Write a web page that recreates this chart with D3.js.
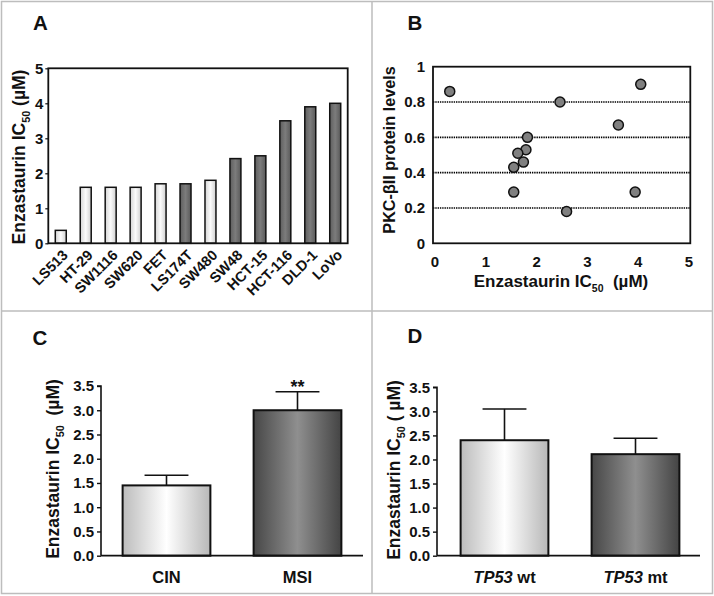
<!DOCTYPE html>
<html><head><meta charset="utf-8">
<script src="https://cdn.jsdelivr.net/npm/d3@7"></script>
<style>
body{margin:0;background:#fff;}
svg{display:block;}
.tick text{font-family:"Liberation Sans",Arial,sans-serif;font-weight:bold;fill:#111;}
</style></head>
<body>
<svg id="c" width="714" height="596"></svg>
<script>
// ---------- DATA ----------
const cellLines = ["LS513","HT-29","SW1116","SW620","FET","LS174T","SW480","SW48","HCT-15","HCT-116","DLD-1","LoVo"];
const ic50Values = [0.37,1.6,1.6,1.6,1.7,1.7,1.8,2.42,2.5,3.5,3.9,4.0];
const cellStatus = ["CIN","CIN","CIN","CIN","CIN","MSI","CIN","MSI","MSI","MSI","MSI","MSI"];
const yTicksA = [0,1,2,3,4,5];

const scatterIC50 = [0.3,2.47,4.06,3.62,1.83,1.80,1.64,1.75,1.56,1.56,3.95,2.60];
const scatterPKC  = [0.86,0.80,0.90,0.67,0.60,0.53,0.51,0.46,0.43,0.29,0.29,0.18];
const xTicksB = [0,1,2,3,4,5];
const yTicksB = [0,0.2,0.4,0.6,0.8,1];
const gridB = [0.2,0.4,0.6,0.8];

const groupsC = ["CIN","MSI"];
const meansC = [1.45,3.0];
const errsC = [0.21,0.38];
const sigC = ["","**"];

const groupsD = ["TP53 wt","TP53 mt"];
const meansD = [2.4,2.11];
const errsD = [0.65,0.33];
const yTicksCD = [0,0.5,1,1.5,2,2.5,3,3.5];

// ---------- SETUP ----------
const svg = d3.select("#c");
const FA = "'Liberation Sans', Arial, sans-serif";
svg.append("rect").attr("width",714).attr("height",596).attr("fill","#fff");

const defs = svg.append("defs");
function grad(id, stops){
  const g = defs.append("linearGradient").attr("id",id).attr("x1","0%").attr("x2","100%").attr("y1","0%").attr("y2","0%");
  stops.forEach(s=>g.append("stop").attr("offset",s[0]).attr("stop-color",s[1]));
}
grad("lightA",[["0%","#d4d4d4"],["50%","#fbfbfb"],["100%","#cfcfcf"]]);
grad("darkA",[["0%","#5e5e5e"],["50%","#7c7c7c"],["100%","#5a5a5a"]]);
grad("lightC",[["0%","#bcbcbc"],["50%","#ffffff"],["100%","#b8b8b8"]]);
grad("darkC",[["0%","#474747"],["50%","#8f8f8f"],["100%","#444444"]]);

// border and dividers
const bc = "#bdbdbd";
svg.append("rect").attr("x",1.5).attr("y",1.5).attr("width",711).attr("height",592)
  .attr("fill","none").attr("stroke",bc).attr("stroke-width",1.5);
svg.append("line").attr("x1",372).attr("x2",372).attr("y1",1.5).attr("y2",593.5).attr("stroke",bc).attr("stroke-width",1.5);
svg.append("line").attr("x1",1.5).attr("x2",712.5).attr("y1",311).attr("y2",311).attr("stroke",bc).attr("stroke-width",1.5);

function panelLabel(t,x,y){
  svg.append("text").attr("x",x).attr("y",y).attr("text-anchor","middle")
    .attr("font-family",FA).attr("font-weight","bold").attr("font-size",20.5).attr("fill","#111").text(t);
}
function yLabel(x,y,size,pre,sub,post){
  const t = svg.append("text").attr("transform",`translate(${x},${y}) rotate(-90)`)
    .attr("text-anchor","middle").attr("font-family",FA).attr("font-weight","bold")
    .attr("font-size",size).attr("fill","#111").attr("xml:space","preserve");
  t.append("tspan").text(pre);
  if(sub){
    t.append("tspan").attr("font-size",size*0.62).attr("dy",size*0.28).text(sub);
    t.append("tspan").attr("dy",-size*0.28).text(post);
  }
  return t;
}

// ---------- PANEL A ----------
panelLabel("A",40.5,30);
const xA = d3.scaleBand().domain(cellLines).range([48.3,347.7]).paddingInner(0.56).paddingOuter(0.28);
const yA = d3.scaleLinear().domain([0,5]).range([243.3,68.3]);
const gA = svg.append("g");
gA.selectAll("rect.bar").data(cellLines).join("rect").attr("class","bar")
  .attr("x",d=>xA(d)).attr("width",xA.bandwidth())
  .attr("y",(d,i)=>yA(ic50Values[i])).attr("height",(d,i)=>yA(0)-yA(ic50Values[i]))
  .attr("fill",(d,i)=>cellStatus[i]==="MSI"?"url(#darkA)":"url(#lightA)")
  .attr("stroke","#111").attr("stroke-width",1.5);
gA.append("rect").attr("x",48.3).attr("y",68.3).attr("width",299.4).attr("height",175)
  .attr("fill","none").attr("stroke","#111").attr("stroke-width",1.8);
const axA = gA.append("g").attr("transform","translate(48.3,0)")
  .call(d3.axisLeft(yA).tickValues(yTicksA).tickSize(3).tickPadding(2).tickFormat(d3.format("d")));
axA.select(".domain").remove();
axA.selectAll("line").attr("stroke","#111").attr("stroke-width",1.2);
axA.selectAll("text").attr("font-size",15);
gA.selectAll("text.cat").data(cellLines).join("text").attr("class","cat")
  .attr("transform",d=>`translate(${xA(d)+xA.bandwidth()/2+8},${256}) rotate(-45)`)
  .attr("text-anchor","end")
  .attr("font-family",FA).attr("font-weight","bold").attr("font-size",14.5).attr("fill","#111")
  .text(d=>d);
yLabel(25,157,17.5,"Enzastaurin IC","50"," (µM)");

// ---------- PANEL B ----------
panelLabel("B",415,30);
const xB = d3.scaleLinear().domain([0,5]).range([434.5,688.5]);
const yB = d3.scaleLinear().domain([0,1]).range([243.3,66.7]);
const gB = svg.append("g");
gB.selectAll("line.grid").data(gridB).join("line").attr("class","grid")
  .attr("x1",433).attr("x2",690).attr("y1",d=>yB(d)).attr("y2",d=>yB(d))
  .attr("stroke","#000").attr("stroke-width",1.7).attr("stroke-dasharray","1.4,0.9");
gB.append("rect").attr("x",433).attr("y",66.7).attr("width",257.3).attr("height",176.6)
  .attr("fill","none").attr("stroke","#111").attr("stroke-width",1.8);
const axBy = gB.append("g").attr("transform","translate(433,0)")
  .call(d3.axisLeft(yB).tickValues(yTicksB).tickSize(0).tickPadding(8).tickFormat(d=>d===0||d===1?String(d):d3.format(".1f")(d)));
axBy.select(".domain").remove();
axBy.selectAll("text").attr("font-size",15);
const axBx = gB.append("g").attr("transform","translate(0,243.3)")
  .call(d3.axisBottom(xB).tickValues(xTicksB).tickSize(0).tickPadding(13).tickFormat(d3.format("d")));
axBx.select(".domain").remove();
axBx.selectAll("text").attr("font-size",15);
gB.selectAll("circle").data(scatterIC50).join("circle")
  .attr("cx",d=>xB(d)).attr("cy",(d,i)=>yB(scatterPKC[i])).attr("r",5)
  .attr("fill","#808080").attr("stroke","#111").attr("stroke-width",1.5);
{
  const t = svg.append("text").attr("x",561).attr("y",287).attr("text-anchor","middle")
    .attr("font-family",FA).attr("font-weight","bold").attr("font-size",17).attr("fill","#111").attr("xml:space","preserve");
  t.append("tspan").text("Enzastaurin IC");
  t.append("tspan").attr("font-size",10.5).attr("dy",4.5).text("50");
  t.append("tspan").attr("dy",-4.5).text("  (µM)");
}
yLabel(395,150,16.2,"PKC-βII protein levels");

// ---------- PANEL C ----------
panelLabel("C",40,345);
const yC = d3.scaleLinear().domain([0,3.5]).range([555.7,386]);
const xC = d3.scaleBand().domain(groupsC).range([101,363]).paddingInner(0.33).paddingOuter(0.165);
function barPanel(g, xs, ys, groups, means, errs, x0, x1, fills){
  g.selectAll("rect.bar").data(groups).join("rect").attr("class","bar")
    .attr("x",d=>xs(d)).attr("width",xs.bandwidth())
    .attr("y",(d,i)=>ys(means[i])).attr("height",(d,i)=>ys(0)-ys(means[i]))
    .attr("fill",(d,i)=>fills[i]).attr("stroke","#111").attr("stroke-width",2);
  g.selectAll("line.err").data(groups).join("line").attr("class","err")
    .attr("x1",d=>xs(d)+xs.bandwidth()/2).attr("x2",d=>xs(d)+xs.bandwidth()/2)
    .attr("y1",(d,i)=>ys(means[i])).attr("y2",(d,i)=>ys(means[i]+errs[i]))
    .attr("stroke","#111").attr("stroke-width",1.6);
  g.selectAll("line.cap").data(groups).join("line").attr("class","cap")
    .attr("x1",d=>xs(d)+xs.bandwidth()/4).attr("x2",d=>xs(d)+xs.bandwidth()*3/4)
    .attr("y1",(d,i)=>ys(means[i]+errs[i])).attr("y2",(d,i)=>ys(means[i]+errs[i]))
    .attr("stroke","#111").attr("stroke-width",1.6);
  const ax = g.append("g").attr("transform",`translate(${x0},0)`)
    .call(d3.axisLeft(ys).tickValues(yTicksCD).tickSize(4).tickPadding(3).tickFormat(d3.format(".1f")));
  ax.select(".domain").attr("stroke","#111").attr("stroke-width",1.6).attr("d",`M-4,${ys(3.5)}H0V${ys(0)}`);
  ax.selectAll("line").attr("stroke","#111").attr("stroke-width",1.4);
  ax.selectAll("text").attr("font-size",15);
  g.append("line").attr("x1",x0).attr("x2",x1).attr("y1",ys(0)).attr("y2",ys(0))
    .attr("stroke","#111").attr("stroke-width",1.8);
}
const gC = svg.append("g");
barPanel(gC, xC, yC, groupsC, meansC, errsC, 101, 363, ["url(#lightC)","url(#darkC)"]);
gC.selectAll("text.sig").data(groupsC).join("text").attr("class","sig")
  .attr("x",d=>xC(d)+xC.bandwidth()/2).attr("y",(d,i)=>yC(meansC[i]+errsC[i])+1)
  .attr("text-anchor","middle").attr("font-family",FA).attr("font-weight","bold").attr("font-size",18).attr("fill","#111")
  .text((d,i)=>sigC[i]);
gC.selectAll("text.cat").data(groupsC).join("text").attr("class","cat")
  .attr("x",d=>xC(d)+xC.bandwidth()/2).attr("y",583).attr("text-anchor","middle")
  .attr("font-family",FA).attr("font-weight","bold").attr("font-size",16.5).attr("fill","#111").text(d=>d);
yLabel(59,469,17.5,"Enzastaurin IC","50","  (µM)");

// ---------- PANEL D ----------
panelLabel("D",415,343);
const yD = d3.scaleLinear().domain([0,3.5]).range([555.7,387.3]);
const xD = d3.scaleBand().domain(groupsD).range([439,701]).paddingInner(0.33).paddingOuter(0.165);
const gD = svg.append("g");
barPanel(gD, xD, yD, groupsD, meansD, errsD, 437, 700, ["url(#lightC)","url(#darkC)"]);
gD.selectAll("text.cat").data(groupsD).join("text").attr("class","cat")
  .attr("x",d=>xD(d)+xD.bandwidth()/2).attr("y",583).attr("text-anchor","middle")
  .attr("font-family",FA).attr("font-weight","bold").attr("font-size",16.5).attr("fill","#111")
  .each(function(d){
    const parts = d.split(" ");
    const t = d3.select(this);
    t.append("tspan").attr("font-style","italic").text(parts[0]);
    t.append("tspan").text(" "+parts[1]);
  });
yLabel(400,470,17.5,"Enzastaurin IC","50"," ( µM)");
</script>
</body></html>
